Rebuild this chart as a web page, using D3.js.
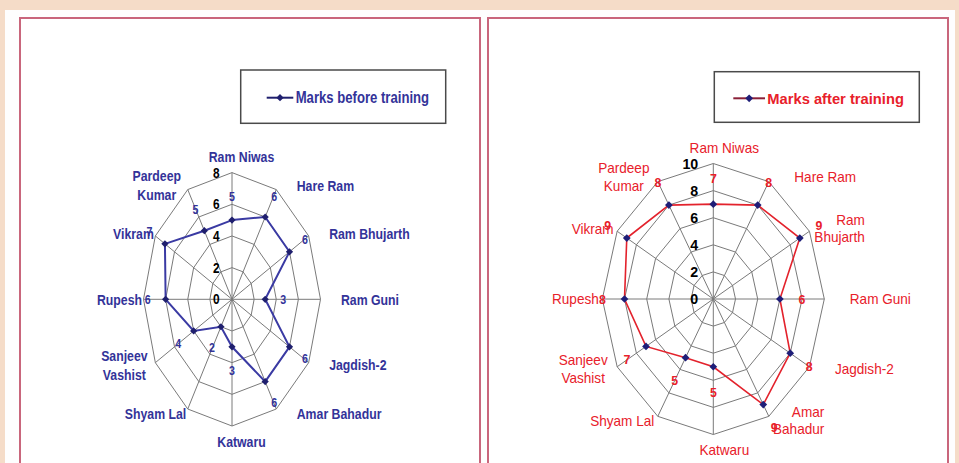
<!DOCTYPE html>
<html lang="en">
<head>
<meta charset="utf-8">
<title>Marks before and after training</title>
<script src="https://cdn.jsdelivr.net/npm/d3@7"></script>
<style>
  html, body { margin: 0; padding: 0; background: #f5dcc8; }
  svg { display: block; }
  text { font-family: "Liberation Sans", Arial, sans-serif; }
</style>
</head>
<body>
<script>

// names as they appear round the radar, clockwise from the top
var categories = ["Ram Niwas", "Hare Ram", "Ram Bhujarth", "Ram Guni", "Jagdish-2", "Amar Bahadur",
                  "Katwaru", "Shyam Lal", "Sanjeev Vashist", "Rupesh", "Vikram", "Pardeep Kumar"];

var beforeValues = [5, 6, 6, 3, 6, 6, 3, 2, 4, 6, 7, 5];
var afterValues  = [7, 8, 9, 6, 8, 9, 5, 5, 7, 8, 9, 8];

var beforeTicks = [0, 2, 4, 6, 8];
var afterTicks  = [0, 2, 4, 6, 8, 10];

// how the names wrap on each chart
var beforeLabelLines = [["Ram Niwas"], ["Hare Ram"], ["Ram Bhujarth"], ["Ram Guni"], ["Jagdish-2"], ["Amar Bahadur"],
                        ["Katwaru"], ["Shyam Lal"], ["Sanjeev", "Vashist"], ["Rupesh"], ["Vikram"], ["Pardeep", "Kumar"]];
var afterLabelLines  = [["Ram Niwas"], ["Hare Ram"], ["Ram", "Bhujarth"], ["Ram Guni"], ["Jagdish-2"], ["Amar", "Bahadur"],
                        ["Katwaru"], ["Shyam Lal"], ["Sanjeev", "Vashist"], ["Rupesh"], ["Vikram"], ["Pardeep", "Kumar"]];

var W = 959, H = 463;

var svg = d3.select("body").append("svg")
    .attr("width", W)
    .attr("height", H);

svg.append("rect").attr("width", W).attr("height", H).attr("fill", "#f5dcc8");
svg.append("rect").attr("x", 5).attr("y", 10).attr("width", 950).attr("height", H).attr("fill", "#fefefe");

// the two framed panels
[[20, 460], [488, 460]].forEach(function(p) {
  svg.append("rect")
      .attr("x", p[0]).attr("y", 18)
      .attr("width", p[1]).attr("height", H)
      .attr("fill", "#ffffff")
      .attr("stroke", "#c9667c")
      .attr("stroke-width", 2);
});

// font styles: narrow is faked by squeezing Liberation Sans Bold
var NARROW = { weight: "bold", sx: 0.82 },
    PLAIN  = { weight: "normal", sx: 0.97 },
    BOLD   = { weight: "bold", sx: 0.95 };

var panels = [
  {
    values: beforeValues, ticks: beforeTicks, lines: beforeLabelLines, max: 8,
    cx: 232, cy: 299.3, rx: 88.5, ry: 126.7,
    textColor: "#333399", lineColor: "#3a3aa3", lineWidth: 2, markerColor: "#1f1f6e", markerSize: 26,
    catFont: NARROW, catSize: 15, shift: 9.5, gap: 11, multi: 31, lineGap: 19,
    valFont: NARROW, valSize: 13, valOff: [18, 24],
    tickFont: NARROW, tickSize: 14.5, tickGap: 12.5,
    legend: { box: [240.7, 70, 445.7, 123.3], line: [266.7, 293.3], y: 97.7, lineColor: "#1f1f6e",
              text: "Marks before training", tx: 295.7, font: NARROW, size: 16 }
  },
  {
    values: afterValues, ticks: afterTicks, lines: afterLabelLines, max: 10,
    cx: 713.3, cy: 299, rx: 111, ry: 135.5,
    textColor: "#e8202a", lineColor: "#e3222c", lineWidth: 1.6, markerColor: "#1e1e78", markerSize: 30,
    catFont: PLAIN, catSize: 14, shift: 11, gap: 14.5, multi: 34, lineGap: 17.5,
    valFont: BOLD, valSize: 13, valOff: [22, 26],
    tickFont: BOLD, tickSize: 15, tickGap: 15,
    legend: { box: [714.3, 71.7, 919.3, 122.3], line: [733.3, 765], y: 98.3, lineColor: "#8a2038",
              text: "Marks after training", tx: 767.3, font: BOLD, size: 15.5 }
  }
];

var diamond = d3.symbol().type(d3.symbolSquare);

panels.forEach(function(p) { drawRadar(p); });

// text placed at (x, y), squeezed horizontally about its anchor
function label(parent, x, y, lines, font, size, color, anchor, lineGap) {
  var t = parent.append("text")
      .attr("transform", "translate(" + x + "," + y + ")scale(" + font.sx + ",1)")
      .attr("text-anchor", anchor)
      .attr("font-weight", font.weight)
      .attr("font-size", size)
      .attr("fill", color);
  lines.forEach(function(l, k) {
    t.append("tspan")
        .attr("x", 0)
        .attr("y", (k - (lines.length - 1) / 2) * (lineGap || 0))
        .attr("dy", "0.35em")
        .text(l);
  });
  return t;
}

function drawRadar(p) {
  var n = categories.length,
      idx = d3.range(n),
      angle = d3.scaleLinear().domain([0, n]).range([0, 2 * Math.PI]),
      sx = d3.scaleLinear().domain([0, p.max]).range([0, p.rx]),
      sy = d3.scaleLinear().domain([0, p.max]).range([0, p.ry]);

  function px(i, v) { return p.cx + sx(v) * Math.sin(angle(i)); }
  function py(i, v) { return p.cy - sy(v) * Math.cos(angle(i)); }

  var ring = d3.line().curve(d3.curveLinearClosed);
  var g = svg.append("g");

  // grid rings
  g.selectAll("path.ring")
    .data(p.ticks.filter(function(t) { return t > 0; }))
    .join("path")
      .attr("class", "ring")
      .attr("d", function(t) { return ring(idx.map(function(i) { return [px(i, t), py(i, t)]; })); })
      .attr("fill", "none")
      .attr("stroke", "#7a7a7a")
      .attr("stroke-width", 1);

  // spokes
  g.selectAll("line.spoke")
    .data(idx)
    .join("line")
      .attr("class", "spoke")
      .attr("x1", p.cx).attr("y1", p.cy)
      .attr("x2", function(i) { return px(i, p.max); })
      .attr("y2", function(i) { return py(i, p.max); })
      .attr("stroke", "#7a7a7a")
      .attr("stroke-width", 1);

  // series
  g.append("path")
      .attr("d", ring(p.values.map(function(v, i) { return [px(i, v), py(i, v)]; })))
      .attr("fill", "none")
      .attr("stroke", p.lineColor)
      .attr("stroke-width", p.lineWidth);

  g.selectAll("path.marker")
    .data(p.values)
    .join("path")
      .attr("class", "marker")
      .attr("d", diamond.size(p.markerSize))
      .attr("transform", function(v, i) { return "translate(" + px(i, v) + "," + py(i, v) + ")rotate(45)"; })
      .attr("fill", p.markerColor);

  // value labels
  p.values.forEach(function(v, i) {
    label(g, px(i, v) + Math.sin(angle(i)) * p.valOff[0], py(i, v) - Math.cos(angle(i)) * p.valOff[1],
          [String(v)], p.valFont, p.valSize, p.textColor, "middle");
  });

  // axis ticks on the vertical spoke
  p.ticks.forEach(function(t) {
    label(g, p.cx - p.tickGap, p.cy - sy(t), [String(t)], p.tickFont, p.tickSize, "#000", "end");
  });

  // category names
  idx.forEach(function(i) {
    var s = Math.sin(angle(i)), c = Math.cos(angle(i)),
        vx = px(i, p.max), vy = py(i, p.max),
        lines = p.lines[i],
        side = Math.abs(s) < 0.01 ? 0 : (s > 0 ? 1 : -1),
        x, anchor, y;

    if (lines.length > 1 && side > 0) {
      // wrapped names on the right sit flush right, squeezed against the frame
      x = vx + p.multi + 21.5; anchor = "end";
    } else if (lines.length > 1) {
      x = vx + side * p.multi; anchor = "middle";
    } else if (side === 0) {
      x = vx + p.shift; anchor = "middle";
    } else {
      x = vx + p.shift + side * p.gap; anchor = side > 0 ? "start" : "end";
    }
    y = side === 0 ? vy - c * 15.5 : vy - c * 5;

    label(g, x, y, lines, p.catFont, p.catSize, p.textColor, anchor, p.lineGap);
  });

  // legend
  var L = p.legend;
  g.append("rect")
      .attr("x", L.box[0]).attr("y", L.box[1])
      .attr("width", L.box[2] - L.box[0]).attr("height", L.box[3] - L.box[1])
      .attr("fill", "#fff")
      .attr("stroke", "#4a4a4a")
      .attr("stroke-width", 1.5);
  g.append("line")
      .attr("x1", L.line[0]).attr("x2", L.line[1])
      .attr("y1", L.y).attr("y2", L.y)
      .attr("stroke", L.lineColor)
      .attr("stroke-width", 2);
  g.append("path")
      .attr("d", diamond.size(p.markerSize))
      .attr("transform", "translate(" + (L.line[0] + L.line[1]) / 2 + "," + L.y + ")rotate(45)")
      .attr("fill", p.markerColor);
  label(g, L.tx, L.y, [L.text], L.font, L.size, p.textColor, "start");
}

</script>
</body>
</html>
